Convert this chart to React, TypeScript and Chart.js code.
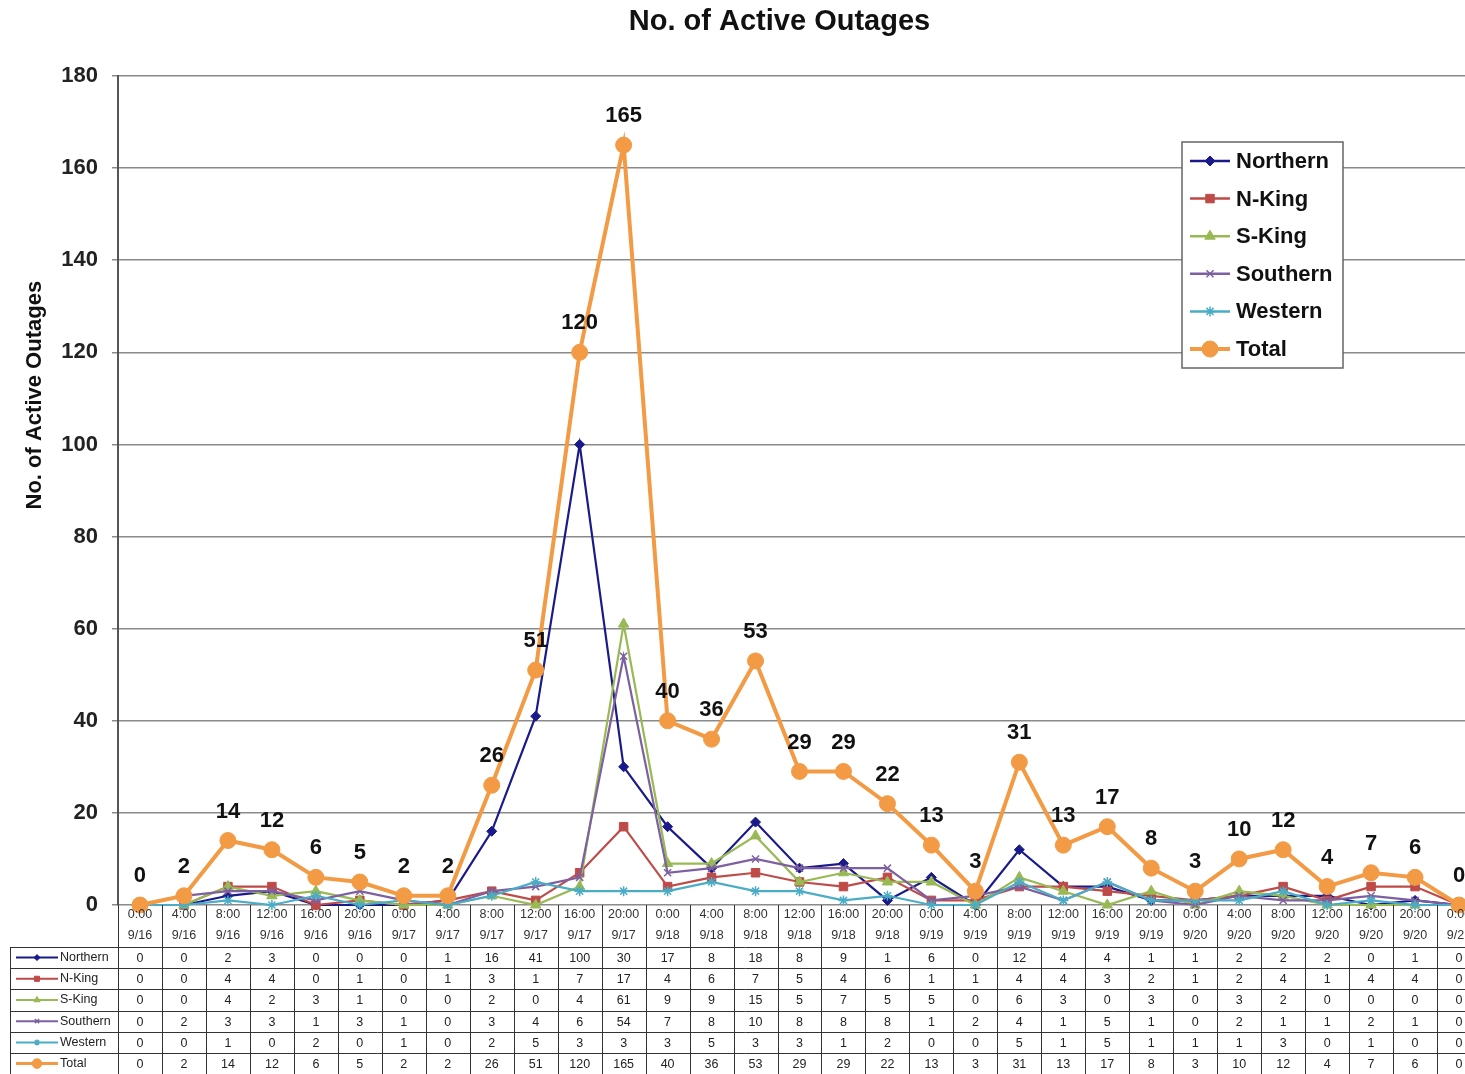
import React, { useEffect, useRef } from "react";
import { Chart, registerables } from "chart.js";
import { drawPoint } from "chart.js/helpers";

Chart.register(...registerables);

const times = [
  "0:00", "4:00", "8:00", "12:00", "16:00", "20:00",
  "0:00", "4:00", "8:00", "12:00", "16:00", "20:00",
  "0:00", "4:00", "8:00", "12:00", "16:00", "20:00",
  "0:00", "4:00", "8:00", "12:00", "16:00", "20:00",
  "0:00", "4:00", "8:00", "12:00", "16:00", "20:00",
  "0:00",
];
const dates = [
  "9/16", "9/16", "9/16", "9/16", "9/16", "9/16",
  "9/17", "9/17", "9/17", "9/17", "9/17", "9/17",
  "9/18", "9/18", "9/18", "9/18", "9/18", "9/18",
  "9/19", "9/19", "9/19", "9/19", "9/19", "9/19",
  "9/20", "9/20", "9/20", "9/20", "9/20", "9/20",
  "9/21",
];

const northern = [0, 0, 2, 3, 0, 0, 0, 1, 16, 41, 100, 30, 17, 8, 18, 8, 9, 1, 6, 0, 12, 4, 4, 1, 1, 2, 2, 2, 0, 1, 0];
const nKing = [0, 0, 4, 4, 0, 1, 0, 1, 3, 1, 7, 17, 4, 6, 7, 5, 4, 6, 1, 1, 4, 4, 3, 2, 1, 2, 4, 1, 4, 4, 0];
const sKing = [0, 0, 4, 2, 3, 1, 0, 0, 2, 0, 4, 61, 9, 9, 15, 5, 7, 5, 5, 0, 6, 3, 0, 3, 0, 3, 2, 0, 0, 0, 0];
const southern = [0, 2, 3, 3, 1, 3, 1, 0, 3, 4, 6, 54, 7, 8, 10, 8, 8, 8, 1, 2, 4, 1, 5, 1, 0, 2, 1, 1, 2, 1, 0];
const western = [0, 0, 1, 0, 2, 0, 1, 0, 2, 5, 3, 3, 3, 5, 3, 3, 1, 2, 0, 0, 5, 1, 5, 1, 1, 1, 3, 0, 1, 0, 0];
const total = [0, 2, 14, 12, 6, 5, 2, 2, 26, 51, 120, 165, 40, 36, 53, 29, 29, 22, 13, 3, 31, 13, 17, 8, 3, 10, 12, 4, 7, 6, 0];

const yTicks = [0, 20, 40, 60, 80, 100, 120, 140, 160, 180];

const FONT = "'Liberation Sans', Arial, sans-serif";

const seriesDefs = [
  { label: "Northern", data: northern, color: "#1a1a8a", style: "rectRot", radius: 5, width: 2.2, order: 6 },
  { label: "N-King", data: nKing, color: "#be4b48", style: "rect", radius: 6, width: 2.2, order: 5 },
  { label: "S-King", data: sKing, color: "#98b954", style: "triangle", radius: 6, width: 2.2, order: 4 },
  { label: "Southern", data: southern, color: "#7d60a0", style: "crossRot", radius: 5, width: 2.2, order: 3 },
  { label: "Western", data: western, color: "#4aacc5", style: "star", radius: 5, width: 2.2, order: 2 },
  { label: "Total", data: total, color: "#f39a45", style: "circle", radius: 8, width: 4, order: 1 },
];

function marker(ctx: CanvasRenderingContext2D, s: any, x: number, y: number, scale = 1) {
  ctx.save();
  ctx.fillStyle = s.color;
  ctx.strokeStyle = s.color;
  ctx.lineWidth = s.style === "crossRot" || s.style === "star" ? 1.5 : 1;
  drawPoint(ctx, { pointStyle: s.style, radius: s.radius * scale, rotation: 0, borderWidth: ctx.lineWidth } as any, x, y);
  ctx.restore();
}

const extrasPlugin = {
  id: "extras",
  afterDatasetsDraw(chart: any) {
    const ctx: CanvasRenderingContext2D = chart.ctx;
    const meta = chart.getDatasetMeta(5);
    ctx.save();
    ctx.font = `bold 22px ${FONT}`;
    ctx.fillStyle = "#111";
    ctx.textAlign = "center";
    ctx.textBaseline = "middle";
    meta.data.forEach((pt: any, i: number) => {
      ctx.fillText(String(total[i]), pt.x, pt.y - 29);
    });
    ctx.restore();
  },
  afterDraw(chart: any) {
    const ctx: CanvasRenderingContext2D = chart.ctx;
    const area = chart.chartArea;
    const xs = chart.scales.x;
    ctx.save();

    // Title
    ctx.font = `bold 29px ${FONT}`;
    ctx.fillStyle = "#111";
    ctx.textAlign = "center";
    ctx.textBaseline = "middle";
    ctx.fillText("No. of Active Outages", (area.left + area.right) / 2 - 20, 22);

    // Y-axis title
    ctx.save();
    ctx.translate(35, area.top + (area.bottom - area.top) * 0.385);
    ctx.rotate(-Math.PI / 2);
    ctx.font = `bold 22px ${FONT}`;
    ctx.fillText("No. of Active Outages", 0, 0);
    ctx.restore();

    // Legend
    const lx = 1182, ly = 142, lw = 161, lh = 226;
    ctx.fillStyle = "#fff";
    ctx.fillRect(lx, ly, lw, lh);
    ctx.strokeStyle = "#666";
    ctx.lineWidth = 1.5;
    ctx.strokeRect(lx, ly, lw, lh);
    seriesDefs.forEach((s, i) => {
      const yy = ly + 19 + i * 37.6;
      ctx.strokeStyle = s.color;
      ctx.lineWidth = s.width === 4 ? 4 : 2.5;
      ctx.beginPath();
      ctx.moveTo(lx + 8, yy);
      ctx.lineTo(lx + 48, yy);
      ctx.stroke();
      marker(ctx, s, lx + 28, yy, 1);
      ctx.fillStyle = "#111";
      ctx.font = `bold 22px ${FONT}`;
      ctx.textAlign = "left";
      ctx.textBaseline = "middle";
      ctx.fillText(s.label, lx + 54, yy + 1);
    });

    // Data table
    const n = times.length;
    const colW = (area.right - area.left) / n;
    const top = area.bottom;
    const headH = 42;
    const rowH = 21.2;
    const tableLeft = 10;
    const rowsTop = top + headH;
    ctx.strokeStyle = "#333";
    ctx.lineWidth = 1;
    for (let k = 0; k <= n; k++) {
      const x = Math.round(area.left + k * colW) + 0.5;
      ctx.beginPath();
      ctx.moveTo(x, top);
      ctx.lineTo(x, rowsTop + rowH * 6);
      ctx.stroke();
    }
    ctx.beginPath();
    ctx.moveTo(tableLeft + 0.5, rowsTop);
    ctx.lineTo(tableLeft + 0.5, rowsTop + rowH * 6);
    ctx.stroke();
    for (let r = 0; r <= 6; r++) {
      const y = Math.round(rowsTop + r * rowH) + 0.5;
      ctx.beginPath();
      ctx.moveTo(tableLeft, y);
      ctx.lineTo(area.right, y);
      ctx.stroke();
    }
    ctx.fillStyle = "#333";
    ctx.font = `12.5px ${FONT}`;
    ctx.textAlign = "center";
    ctx.textBaseline = "middle";
    for (let i = 0; i < n; i++) {
      const cx = xs.getPixelForValue(i);
      ctx.fillText(times[i], cx, top + 10);
      ctx.fillText(dates[i], cx, top + 31);
    }
    seriesDefs.forEach((s, r) => {
      const cy = rowsTop + r * rowH + rowH / 2;
      ctx.strokeStyle = s.color;
      ctx.lineWidth = s.width === 4 ? 3 : 2;
      ctx.beginPath();
      ctx.moveTo(tableLeft + 6, cy);
      ctx.lineTo(tableLeft + 48, cy);
      ctx.stroke();
      marker(ctx, s, tableLeft + 27, cy, 0.6);
      ctx.fillStyle = "#222";
      ctx.font = `12.5px ${FONT}`;
      ctx.textAlign = "left";
      ctx.fillText(s.label, tableLeft + 50, cy);
      ctx.textAlign = "center";
      for (let i = 0; i < n; i++) {
        ctx.fillText(String(s.data[i]), xs.getPixelForValue(i), cy + 1);
      }
    });
    ctx.restore();
  },
};

export default function App() {
  const ref = useRef<HTMLCanvasElement | null>(null);
  useEffect(() => {
    if (!ref.current) return;
    const chart = new Chart(ref.current, {
      type: "line",
      data: {
        labels: times.map((t, i) => `${t} ${dates[i]}`),
        datasets: seriesDefs.map((s) => ({
          label: s.label,
          data: s.data,
          borderColor: s.color,
          backgroundColor: s.color,
          pointBackgroundColor: s.color,
          pointBorderColor: s.color,
          pointStyle: s.style as any,
          pointRadius: s.radius,
          pointBorderWidth: s.style === "crossRot" || s.style === "star" ? 1.5 : 1,
          borderWidth: s.width,
          tension: 0,
          order: s.order,
          clip: false as any,
        })),
      },
      options: {
        animation: false,
        responsive: false,
        maintainAspectRatio: false,
        devicePixelRatio: 1,
        layout: { padding: { top: 76, bottom: 169, right: 8, left: 0 } },
        plugins: {
          legend: { display: false },
          title: { display: false },
          tooltip: { enabled: false },
        },
        scales: {
          x: {
            type: "category",
            display: false,
            offset: true,
          },
          y: {
            min: 0,
            max: 180,
            afterFit: (s: any) => {
              s.width = 118;
            },
            afterBuildTicks: (s: any) => {
              s.ticks = yTicks.map((v) => ({ value: v }));
            },
            border: { display: true, color: "#555", width: 2 },
            grid: { color: "#8a8a8a", lineWidth: 1.5, drawTicks: true, tickLength: 6 },
            ticks: {
              font: { family: FONT, size: 22, weight: "bold" },
              color: "#222",
              padding: 14,
            },
          },
        },
      },
      plugins: [extrasPlugin],
    });
    return () => chart.destroy();
  }, []);
  return (
    <div
      style={{
        position: "fixed",
        left: 0,
        top: 0,
        width: 1465,
        height: 1074,
        overflow: "hidden",
        background: "#fff",
      }}
    >
      <canvas ref={ref} width={1490} height={1074} style={{ display: "block", width: 1490, height: 1074 }} />
    </div>
  );
}
